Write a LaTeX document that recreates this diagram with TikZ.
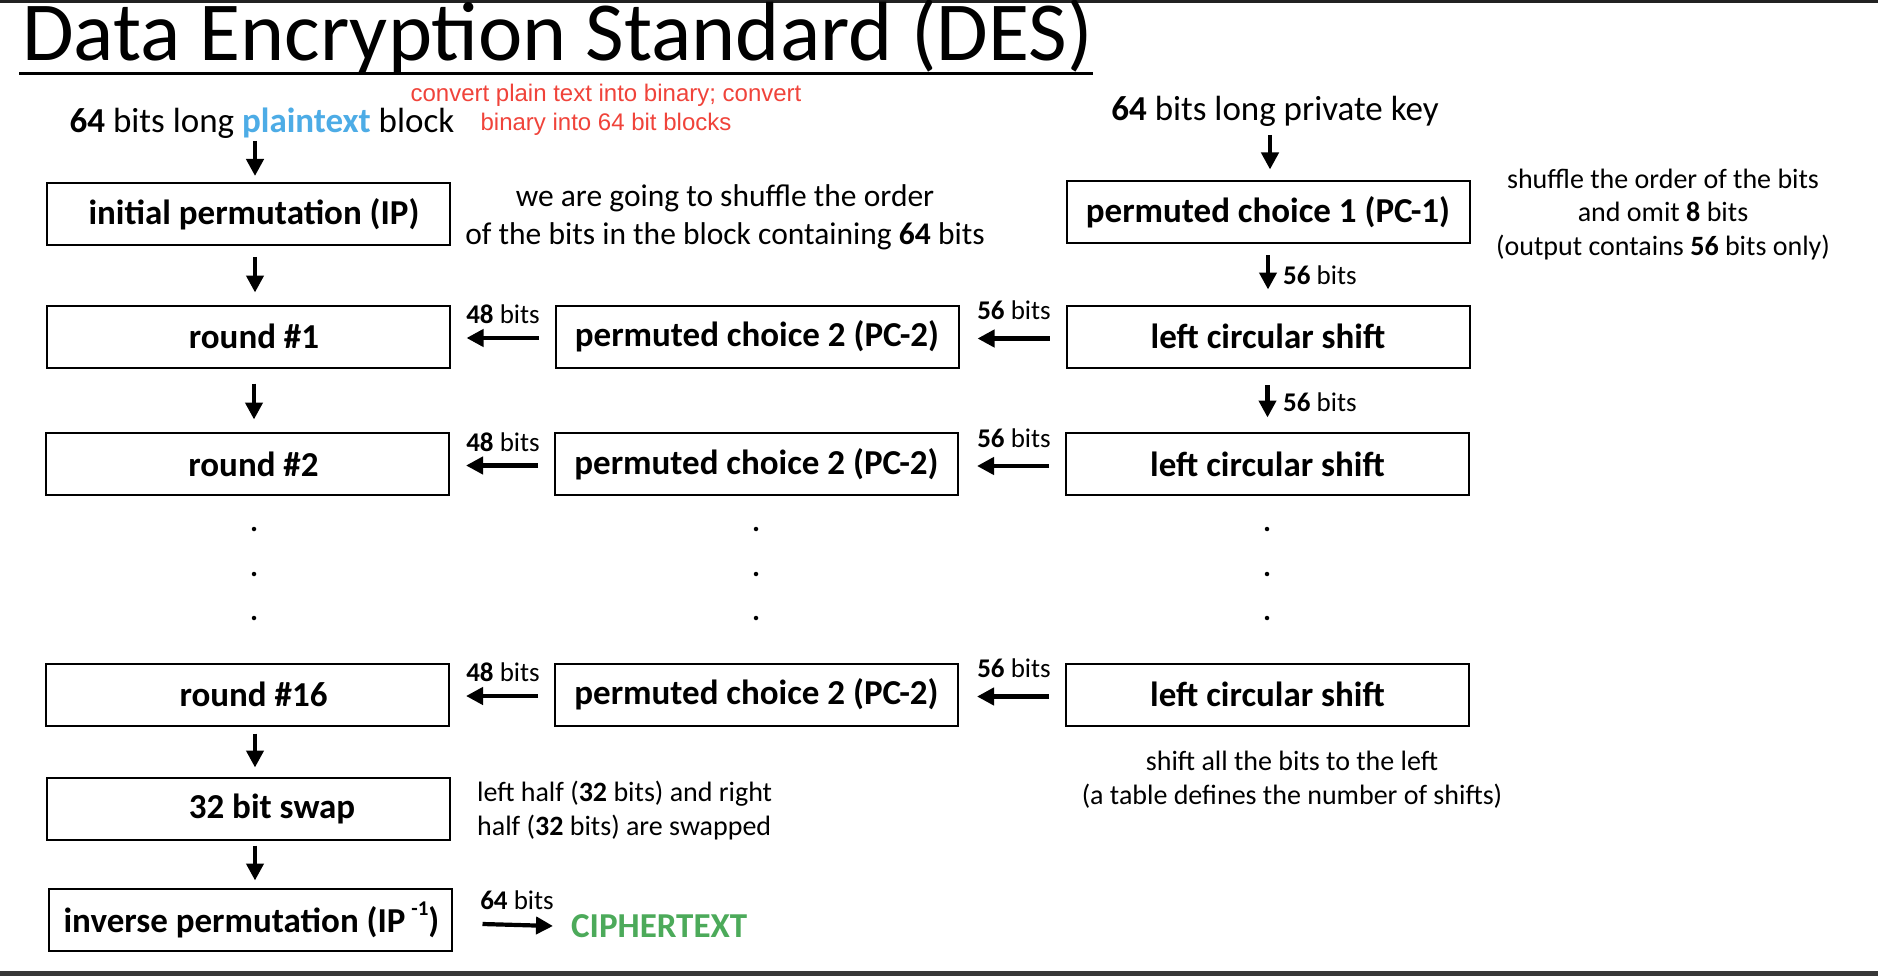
\documentclass[tikz,border=0pt]{standalone}
\usepackage{fontspec}
\setmainfont{Carlito}
\newfontfamily\arialf{Liberation Sans}
\usetikzlibrary{arrows.meta}
\definecolor{ptblue}{RGB}{77,172,230}
\definecolor{ctgreen}{RGB}{76,170,90}
\definecolor{notered}{RGB}{240,67,58}
\definecolor{barcol}{RGB}{34,34,34}
\begin{document}
\begin{tikzpicture}[x=1pt,y=-1pt,
  box/.style={draw, line width=2pt, minimum width=403pt, minimum height=62pt, inner sep=0pt, font=\fontsize{35}{42}\selectfont\bfseries},
  arr/.style={line width=4.2pt, -{Triangle[length=17pt,width=17pt]}},
  lbl/.style={font=\fontsize{27}{32}\selectfont, inner sep=0pt},
  bigtxt/.style={font=\fontsize{35}{42}\selectfont, inner sep=0pt},
  note/.style={font=\fontsize{28}{33.5}\selectfont, align=center, inner sep=0pt},
  dotn/.style={circle, fill, inner sep=0pt, minimum size=4.5pt}]

\useasboundingbox (0,0) rectangle (1878,976);
\fill[white] (0,0) rectangle (1878,976);
\fill[barcol] (0,0) rectangle (1878,3);
\fill[barcol!90] (0,971) rectangle (1878,976);

% title
\node[anchor=base west, inner sep=0pt, font=\fontsize{84}{88}\selectfont] (title) at (22,61) {Data Encryption Standard (DES)};
\draw[line width=3pt] (19,74) -- (1093,74);

% top texts
\node[bigtxt] (ptxt) at (262,123.5) {\textbf{64} bits long \textbf{\color{ptblue}plaintext} block};
\node[font=\arialf\fontsize{24}{29}\selectfont, text=notered, align=center, inner sep=0pt] (conv) at (606,109.5) {convert plain text into binary; convert\\binary into 64 bit blocks};
\node[bigtxt] (key) at (1275,111.5) {\textbf{64} bits long private key};
\node[font=\fontsize{31.5}{37.5}\selectfont, align=center, inner sep=0pt] (n1) at (725,217.5) {we are going to shuffle the order\\of the bits in the block containing \textbf{64} bits};
\node[note] (n2) at (1663,214.5) {shuffle the order of the bits\\and omit \textbf{8} bits\\(output contains \textbf{56} bits only)};

% left column
\node[box] (ip) at (248,214) {\hspace*{12pt}initial permutation (IP)};
\node[box] (r1) at (248,336.5) {\hspace*{12pt}round \#1};
\node[box] (r2) at (247.5,464) {\hspace*{12pt}round \#2};
\node[box] (r16) at (247.5,694.5) {\hspace*{12pt}round \#16};
\node[box] (swap) at (248,809) {\hspace*{48pt}32 bit swap};
\node[box] (inv) at (250,920) {\hspace*{3pt}inverse permutation (IP\,\raisebox{1.05ex}{\fontsize{21}{24}\selectfont -1})};

% middle column
\node[box] (pa) at (757,336.5) {permuted choice 2 (PC-2)};
\node[box] (pb) at (756.5,464) {permuted choice 2 (PC-2)};
\node[box] (pc) at (756.5,694.5) {permuted choice 2 (PC-2)};

% right column
\node[box] (pc1) at (1268,212.5) {permuted choice 1 (PC-1)};
\node[box] (la) at (1268,336.5) {left circular shift};
\node[box] (lb) at (1267.5,464) {left circular shift};
\node[box] (lc) at (1267.5,694.5) {left circular shift};

% notes
\node[note] (n3) at (1292,779.5) {shift all the bits to the left\\(a table defines the number of shifts)};
\node[note, align=left, anchor=west] (n4) at (477,810.5) {left half (\textbf{32} bits) and right\\half (\textbf{32} bits) are swapped};
\node[font=\fontsize{35}{42}\selectfont\bfseries, text=ctgreen, anchor=west, inner sep=0pt] (ct) at (571,926) {CIPHERTEXT};

% vertical arrows
\coordinate (ptop) at (255,141);
\draw[arr] (ptop) -- ([xshift=7pt,yshift=6pt]ip.north);
\draw[arr] ([xshift=7pt,yshift=-11pt]ip.south) -- ([xshift=7pt,yshift=12pt]r1.north);
\draw[arr] ([xshift=6pt,yshift=-15pt]r1.south) -- ([xshift=6.5pt,yshift=12.5pt]r2.north);
\draw[arr] ([xshift=7.5pt,yshift=-7pt]r16.south) -- ([xshift=7pt,yshift=9.5pt]swap.north);
\draw[arr] ([xshift=7pt,yshift=-4.5pt]swap.south) -- ([xshift=5pt,yshift=7.5pt]inv.north);
\coordinate (ktop) at (1270,135);
\draw[arr] (ktop) -- ([xshift=2pt,yshift=11pt]pc1.north);
\draw[arr] ([yshift=-11pt]pc1.south) -- ([yshift=15pt]la.north);
\draw[arr] ([xshift=-0.5pt,yshift=-16.5pt]la.south) -- ([yshift=14.5pt]lb.north);
\node[lbl, anchor=west] (k56a) at (1283,275) {\textbf{56} bits};
\node[lbl, anchor=west] (k56b) at (1283,402) {\textbf{56} bits};

% horizontal arrows
\foreach \l/\p/\r in {la/pa/r1, lb/pb/r2, lc/pc/r16}{
  \draw[arr] ([xshift=-16pt,yshift=-2pt]\l.west) -- ([xshift=18pt,yshift=-2pt]\p.east);
  \draw[arr] ([xshift=-16pt,yshift=-1.5pt]\p.west) -- ([xshift=16pt,yshift=-1.5pt]\r.east);
}
\node[lbl] (a48) at (503,314.5) {\textbf{48} bits};
\node[lbl] (a56) at (1014,310.5) {\textbf{56} bits};
\node[lbl] (b48) at (503,442) {\textbf{48} bits};
\node[lbl] (b56) at (1014,438) {\textbf{56} bits};
\node[lbl] (c48) at (503,672.5) {\textbf{48} bits};
\node[lbl] (c56) at (1014,668) {\textbf{56} bits};

% output
\draw[arr] ([xshift=30pt,yshift=-4pt]inv.east) -- ([xshift=-18pt]ct.west);
\node[lbl] (o64) at (517,900.5) {\textbf{64} bits};

% dots
\foreach \x/\n in {254/L, 756/M, 1267/R}{
  \node[dotn] (d\n1) at (\x,529) {};
  \node[dotn] (d\n2) at (\x,574) {};
  \node[dotn] (d\n3) at (\x,618) {};
}
\end{tikzpicture}
\end{document}
